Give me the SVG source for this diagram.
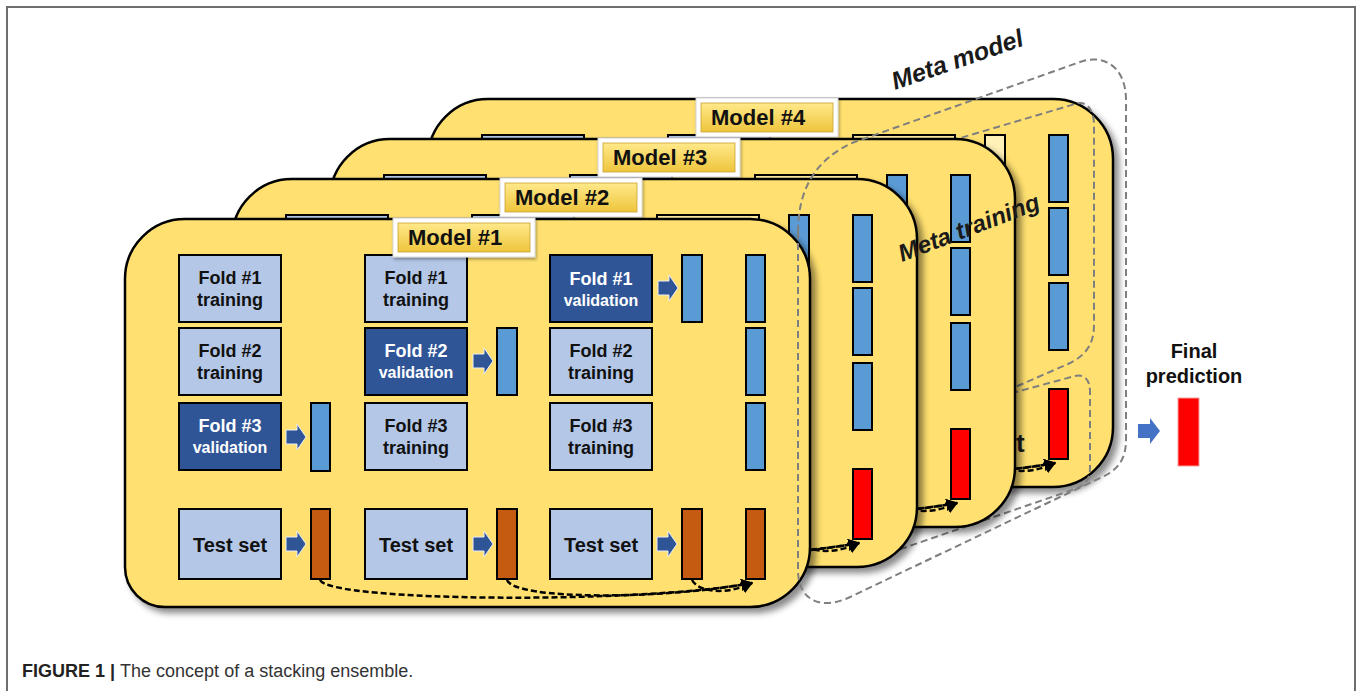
<svg xmlns="http://www.w3.org/2000/svg" width="1359" height="691" viewBox="0 0 1359 691">
<defs>
<style>
.card{fill:#FFE070;stroke:#000;stroke-width:2.5}
.tr{fill:#B4C7E7;stroke:#000;stroke-width:2}
.va{fill:#2F5597;stroke:#000;stroke-width:2}
.bb{fill:#5B9BD5;stroke:#000;stroke-width:2}
.ob{fill:#C55A11;stroke:#000;stroke-width:2}
.rb{fill:#FF0000;stroke:#000;stroke-width:2}
.pk{fill:#FFE9A0;stroke:#000;stroke-width:2}
.ar{fill:#2F5597;stroke:#E8EEF8;stroke-width:1}
.dl{fill:none;stroke:#000;stroke-width:2.5;stroke-dasharray:6 3;marker-end:url(#ah)}
.gd{fill:none;stroke:#7F7F7F;stroke-width:2;stroke-dasharray:7 4}
.t1{font-family:"Liberation Sans",Arial,sans-serif;font-weight:bold;font-size:18px;text-anchor:middle;fill:#111}
.tw{fill:#fff}
.tv{font-size:16px}
.ts{font-size:20px}
.ml{font-family:"Liberation Sans",Arial,sans-serif;font-weight:bold;font-size:22px;fill:#111}
.meta{font-family:"Liberation Sans",Arial,sans-serif;font-style:italic;font-weight:bold;fill:#1a1a1a}
.fp{font-family:"Liberation Sans",Arial,sans-serif;font-weight:bold;font-size:20px;text-anchor:middle;fill:#111}
.cap{font-family:"Liberation Sans",Arial,sans-serif;font-size:18px;fill:#333}
</style>
<filter id="sh" x="-5%" y="-5%" width="115%" height="115%"><feDropShadow dx="5" dy="5" stdDeviation="3" flood-color="#000" flood-opacity="0.45"/></filter>
<filter id="lsh" x="-10%" y="-20%" width="125%" height="150%"><feDropShadow dx="1" dy="2" stdDeviation="1.5" flood-color="#000" flood-opacity="0.35"/></filter>
<linearGradient id="gold" x1="0" y1="0" x2="0" y2="1"><stop offset="0" stop-color="#FFE98A"/><stop offset="1" stop-color="#EEC53C"/></linearGradient>
<marker id="ah" viewBox="0 0 10 10" refX="9" refY="5" markerWidth="12" markerHeight="12" markerUnits="userSpaceOnUse" orient="auto"><path d="M0,0 L10,5 L0,10 Z" fill="#000"/></marker>
<path id="cardshape" d="M0,60 A60,60 0 0 1 60,0 L625,0 A60,60 0 0 1 685,60 L685,328 A60,60 0 0 1 625,388 L40,388 A40,40 0 0 1 0,348 Z"/>
<g id="content">
 <rect class="tr" x="179" y="255" width="102" height="67"/>
 <rect class="tr" x="179" y="328" width="102" height="67"/>
 <rect class="va" x="179" y="403" width="102" height="67"/>
 <rect class="tr" x="365" y="255" width="102" height="67"/>
 <rect class="va" x="365" y="328" width="102" height="67"/>
 <rect class="tr" x="365" y="403" width="102" height="67"/>
 <rect class="va" x="550" y="255" width="102" height="67"/>
 <rect class="tr" x="550" y="328" width="102" height="67"/>
 <rect class="tr" x="550" y="403" width="102" height="67"/>
 <rect class="tr" x="179" y="509" width="102" height="70"/>
 <rect class="tr" x="365" y="509" width="102" height="70"/>
 <rect class="tr" x="550" y="509" width="102" height="70"/>
 <rect class="bb" x="311" y="403" width="19" height="68"/>
 <rect class="bb" x="497" y="328" width="20" height="67"/>
 <rect class="bb" x="682" y="255" width="20" height="67"/>
 <rect class="bb" x="746" y="255" width="19" height="67"/>
 <rect class="bb" x="746" y="328" width="19" height="67"/>
 <rect class="bb" x="746" y="403" width="19" height="67"/>
 <rect class="ob" x="311" y="509" width="19" height="70"/>
 <rect class="ob" x="497" y="509" width="20" height="70"/>
 <rect class="ob" x="682" y="509" width="20" height="70"/>
 <path class="ar" d="M286,430 h11 v-6 l9,13 l-9,13 v-6 h-11 z"/>
 <path class="ar" d="M473,354 h11 v-6 l9,13 l-9,13 v-6 h-11 z"/>
 <path class="ar" d="M658,281 h11 v-6 l9,13 l-9,13 v-6 h-11 z"/>
 <path class="ar" d="M286,537 h11 v-6 l9,13 l-9,13 v-6 h-11 z"/>
 <path class="ar" d="M473,537 h11 v-6 l9,13 l-9,13 v-6 h-11 z"/>
 <path class="ar" d="M657,537 h11 v-6 l9,13 l-9,13 v-6 h-11 z"/>
 <path class="dl" d="M320,580 C330,602 640,604 752,583"/>
 <path class="dl" d="M507,580 C515,600 660,600 752,583"/>
 <path class="dl" d="M692,580 C700,594 730,594 752,583"/>
</g>
<g id="label">
 <rect x="0" y="0" width="142" height="39" fill="#fff" stroke="#d8d8d8" stroke-width="1" filter="url(#lsh)"/>
 <rect x="5" y="5" width="132" height="29" fill="url(#gold)" stroke="#C8A030" stroke-width="0.8"/>
</g>
</defs>

<path d="M7,691 L7,7 L1355,7 L1355,691" fill="none" stroke="#6E6E6E" stroke-width="2"/>

<g id="model4">
 <use href="#cardshape" class="card" filter="url(#sh)" transform="translate(428,99)"/>
 <use href="#content" transform="translate(303,-120)"/>
 <rect class="pk" x="853" y="135" width="102" height="67"/>
 <rect x="985" y="135" width="20" height="67" fill="#FFF1B8" stroke="#000" stroke-width="2"/>
 <rect class="rb" x="1049" y="389" width="19" height="70"/>
 <use href="#label" transform="translate(696,98)"/>
 <text class="ml" x="711" y="125">Model #4</text>
</g>

<g id="meta-training-region">
 <path class="gd" d="M930,147 L1075,104 C1087,100 1094,110 1094,125 L1094,325 C1094,345 1085,356 1068,364 L990,398"/>
 <path class="gd" d="M990,399 L1075,376 C1085,374 1090,380 1090,392 L1090,468 C1090,480 1085,485 1075,489 L860,563"/>
 <text x="1016" y="452" font-family="Liberation Sans, Arial, sans-serif" font-weight="bold" font-size="26" fill="#1a1a1a">t</text>
</g>

<g id="model3">
 <use href="#cardshape" class="card" filter="url(#sh)" transform="translate(330,139)"/>
 <use href="#content" transform="translate(205,-80)"/>
 <rect class="pk" x="755" y="175" width="102" height="67"/>
 <rect class="rb" x="951" y="429" width="19" height="70"/>
 <use href="#label" transform="translate(598,138)"/>
 <text class="ml" x="613" y="165">Model #3</text>
</g>

<g id="model2">
 <use href="#cardshape" class="card" filter="url(#sh)" transform="translate(232,179)"/>
 <use href="#content" transform="translate(107,-40)"/>
 <rect class="pk" x="657" y="215" width="102" height="67"/>
 <rect class="rb" x="853" y="469" width="19" height="70"/>
 <use href="#label" transform="translate(500,178)"/>
 <text class="ml" x="515" y="205">Model #2</text>
</g>

<g id="model1">
 <use href="#cardshape" class="card" filter="url(#sh)" transform="translate(125,219)"/>
 <use href="#content"/>
 <rect class="ob" x="746" y="509" width="19" height="70"/>
 <use href="#label" transform="translate(393,218)"/>
 <text class="ml" x="408" y="245">Model #1</text>
 <text class="t1" x="230" y="284">Fold #1</text>
 <text class="t1" x="230" y="306">training</text>
 <text class="t1" x="230" y="357">Fold #2</text>
 <text class="t1" x="230" y="379">training</text>
 <text class="t1 tw" x="230" y="432">Fold #3</text>
 <text class="t1 tw tv" x="230" y="453">validation</text>
 <text class="t1" x="416" y="284">Fold #1</text>
 <text class="t1" x="416" y="306">training</text>
 <text class="t1 tw" x="416" y="357">Fold #2</text>
 <text class="t1 tw tv" x="416" y="378">validation</text>
 <text class="t1" x="416" y="432">Fold #3</text>
 <text class="t1" x="416" y="454">training</text>
 <text class="t1 tw" x="601" y="285">Fold #1</text>
 <text class="t1 tw tv" x="601" y="306">validation</text>
 <text class="t1" x="601" y="357">Fold #2</text>
 <text class="t1" x="601" y="379">training</text>
 <text class="t1" x="601" y="432">Fold #3</text>
 <text class="t1" x="601" y="454">training</text>
 <text class="t1 ts" x="230" y="552">Test set</text>
 <text class="t1 ts" x="416" y="552">Test set</text>
 <text class="t1 ts" x="601" y="552">Test set</text>
</g>

<g id="meta-model-region">
 <path class="gd" d="M798,232 C798,190 815,160 852,143 L1080,62 C1105,53 1126,68 1126,100 L1126,440 C1126,460 1117,471 1100,478 L848,598 C818,611 798,598 798,570 Z"/>
 <text class="meta" font-size="25" transform="translate(895,90) rotate(-19)">Meta model</text>
 <text class="meta" font-size="24" transform="translate(902,262) rotate(-21)">Meta training</text>
</g>

<g id="final">
 <text class="fp" x="1194" y="358">Final</text>
 <text class="fp" x="1194" y="383">prediction</text>
 <path d="M1138,424 h12 v-6 l10,13 l-10,13 v-6 h-12 z" fill="#4472C4"/>
 <rect x="1178" y="398" width="21" height="68" fill="#FF0000" stroke="#F4A0A0" stroke-width="1"/>
</g>

<text class="cap" x="22" y="677"><tspan font-weight="bold" fill="#222">FIGURE 1 | </tspan>The concept of a stacking ensemble.</text>
</svg>
